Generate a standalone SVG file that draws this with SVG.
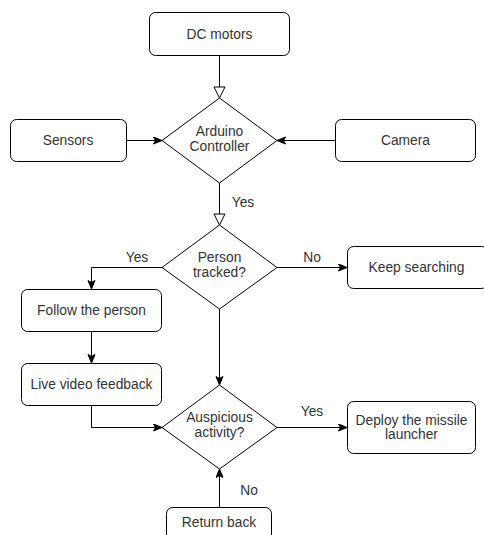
<svg xmlns="http://www.w3.org/2000/svg" width="484" height="535" viewBox="0 0 484 535">
<style>
.box{fill:#fff;stroke:#000;stroke-width:1}
.dia{fill:#fff;stroke:#000;stroke-width:1}
.t{font-family:"Liberation Sans",Arial,sans-serif;font-size:13.8px;fill:#333;text-anchor:middle}
.e{fill:none;stroke:#000;stroke-width:1}
</style>
<defs>
<marker id="cl" markerUnits="userSpaceOnUse" markerWidth="10" markerHeight="9" refX="9" refY="4" orient="auto" viewBox="0 0 10 9">
<path d="M0.5,0.5 L9,4 L0.5,7.5 L2.5,4 z" fill="#000" stroke="#000" stroke-width="1"/>
</marker>
<marker id="op" markerUnits="userSpaceOnUse" markerWidth="13" markerHeight="13" refX="12" refY="6.5" orient="auto" viewBox="0 0 13 13">
<path d="M1,1 L12,6.5 L1,12 z" fill="#fff" stroke="#000" stroke-width="1"/>
</marker>
</defs>
<g id="connectors">
<path class="e" d="M219.5,55 V98" marker-end="url(#op)"/>
<path class="e" d="M126,140.5 H162" marker-end="url(#cl)"/>
<path class="e" d="M335,140.5 H277" marker-end="url(#cl)"/>
<path class="e" d="M219.5,183 V225" marker-end="url(#op)"/>
<path class="e" d="M162,267.5 H91.5 V289" marker-end="url(#cl)"/>
<path class="e" d="M277,267.5 H347" marker-end="url(#cl)"/>
<path class="e" d="M91.5,331 V363" marker-end="url(#cl)"/>
<path class="e" d="M219.5,309 V385" marker-end="url(#cl)"/>
<path class="e" d="M91.5,405 V427.5 H162" marker-end="url(#cl)"/>
<path class="e" d="M277,427.5 H347" marker-end="url(#cl)"/>
<path class="e" d="M219.5,507 V469" marker-end="url(#cl)"/>
<text class="t" x="243" y="207">Yes</text>
<text class="t" x="137" y="262">Yes</text>
<text class="t" x="312" y="262">No</text>
<text class="t" x="312" y="416">Yes</text>
<text class="t" x="249" y="495">No</text>
</g>
<g id="dc-motors">
<rect class="box" x="149.5" y="12.5" width="140" height="43" rx="6"/>
<text class="t" x="219.5" y="39">DC motors</text>
</g>
<g id="sensors">
<rect class="box" x="10.5" y="119.5" width="116" height="42" rx="6"/>
<text class="t" x="68" y="145">Sensors</text>
</g>
<g id="camera">
<rect class="box" x="335.5" y="119.5" width="140" height="42" rx="6"/>
<text class="t" x="405.5" y="145">Camera</text>
</g>
<g id="arduino">
<polygon class="dia" points="219.5,98 277,140.5 219.5,183 162,140.5"/>
<text class="t" x="219.5" y="136">Arduino</text>
<text class="t" x="219.5" y="151">Controller</text>
</g>
<g id="person-tracked">
<polygon class="dia" points="219.5,225 277,267.5 219.5,309 162,267.5"/>
<text class="t" x="219.5" y="262">Person</text>
<text class="t" x="219.5" y="277">tracked?</text>
</g>
<g id="keep-searching">
<rect class="box" x="347.5" y="246.5" width="140" height="42" rx="6"/>
<text class="t" x="416.5" y="272">Keep searching</text>
</g>
<g id="follow">
<rect class="box" x="21.5" y="289.5" width="140" height="42" rx="6"/>
<text class="t" x="91.5" y="315">Follow the person</text>
</g>
<g id="live-video">
<rect class="box" x="21.5" y="363.5" width="140" height="42" rx="6"/>
<text class="t" x="91.5" y="389">Live video feedback</text>
</g>
<g id="auspicious">
<polygon class="dia" points="219.5,385 277,427.5 219.5,469 162,427.5"/>
<text class="t" x="219.5" y="422">Auspicious</text>
<text class="t" x="219.5" y="437">activity?</text>
</g>
<g id="deploy">
<rect class="box" x="347.5" y="401.5" width="128" height="52" rx="6"/>
<text class="t" x="411.5" y="425">Deploy the missile</text>
<text class="t" x="411.5" y="439">launcher</text>
</g>
<g id="return-back">
<rect class="box" x="166.5" y="507.5" width="105" height="42" rx="6"/>
<text class="t" x="219" y="527">Return back</text>
</g>
</svg>
